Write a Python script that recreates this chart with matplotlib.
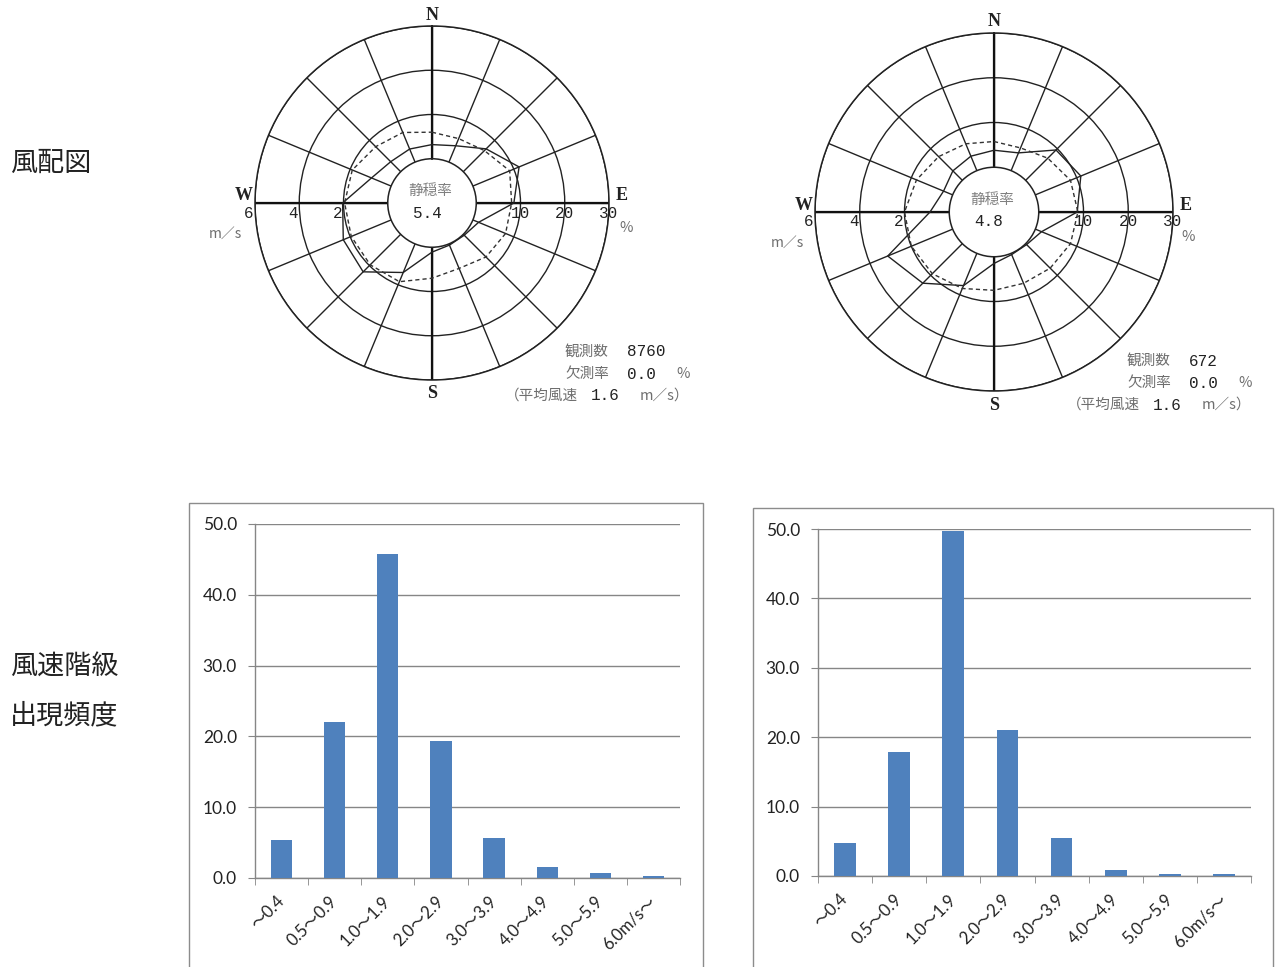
import numpy as np
import matplotlib

matplotlib.use("Agg")
import matplotlib.pyplot as plt  # noqa: E402
from matplotlib.patches import Rectangle  # noqa: E402

plt.rcParams["font.family"] = ["Noto Sans CJK JP", "DejaVu Sans"]

W_PX, H_PX = 1279, 967

# 16 directions, clockwise from N
directions = ["N", "NNE", "NE", "ENE", "E", "ESE", "SE", "SSE",
              "S", "SSW", "SW", "WSW", "W", "WNW", "NW", "NNW"]

# left station: frequency (%) and mean speed (m/s) per direction
left_freq = [3.2, 4.0, 7.3, 11.3, 8.5, 1.4, 0.3, 0.3,
             1.1, 7.0, 12.0, 11.7, 10.2, 4.8, 3.2, 3.2]
left_speed = [1.2, 1.15, 1.35, 1.8, 1.6, 1.6, 1.45, 1.2,
              1.4, 1.85, 1.95, 1.95, 1.95, 1.9, 1.6, 1.45]
left_calm = "5.4"
left_count = "8760"
left_missing = "0.0"
left_mean = "1.6"

# right station
right_freq = [3.8, 4.3, 9.6, 11.0, 8.6, 1.5, 0.3, 0.3,
              1.5, 7.8, 12.5, 15.7, 4.3, 2.2, 3.0, 3.5]
right_speed = [1.15, 1.1, 1.4, 1.7, 1.75, 1.7, 1.55, 1.45,
               1.5, 1.7, 1.9, 2.0, 2.0, 1.75, 1.5, 1.3]
right_calm = "4.8"
right_count = "672"
right_missing = "0.0"
right_mean = "1.6"

pct_ticks = [10, 20, 30]
speed_ticks = [2, 4, 6]

# wind speed class frequency (%)
speed_classes = ["～0.4", "0.5～0.9", "1.0～1.9", "2.0～2.9",
                 "3.0～3.9", "4.0～4.9", "5.0～5.9", "6.0m/s～"]
left_class_freq = [5.4, 22.1, 45.8, 19.4, 5.7, 1.5, 0.7, 0.3]
right_class_freq = [4.7, 17.9, 49.7, 21.0, 5.5, 0.9, 0.25, 0.25]

INK = "#222222"
GRAY_TXT = "#6e6e6e"
MONO = ["Liberation Mono", "Noto Sans CJK JP"]
BAR_FONT = ["Lato", "Noto Sans CJK JP"]

fig = plt.figure(figsize=(W_PX / 100, H_PX / 100), dpi=100)


def ftext(x, y, s, **kw):
    fig.text(x / W_PX, 1 - y / H_PX, s, **kw)


def rose(cx, cy, R, freq, speed, calm, count, missing, mean):
    ax = fig.add_axes([(cx - R) / W_PX, 1 - (cy + R) / H_PX, 2 * R / W_PX, 2 * R / H_PX],
                      projection="polar")
    ax.set_theta_zero_location("N")
    ax.set_theta_direction(-1)
    ax.set_rorigin(-10)
    ax.set_ylim(0, 30)
    ax.set_thetagrids(np.arange(0, 360, 22.5), labels=[])
    ax.set_rgrids(pct_ticks, labels=[])
    ax.grid(True, color=INK, lw=1.0)
    for sp in ax.spines.values():
        sp.set_color(INK)
        sp.set_linewidth(1.1)

    for d in (0, 90, 180, 270):
        ax.plot([np.deg2rad(d)] * 2, [0, 30], color="#111111", lw=1.6)

    theta = np.deg2rad(np.arange(len(directions)) * 22.5)
    th = np.append(theta, theta[0])
    ax.plot(th, np.append(freq, freq[0]), color=INK, lw=1.0)
    sp_r = np.array(speed) * 5
    ax.plot(th, np.append(sp_r, sp_r[0]), color="#333333", lw=1.0, ls=(0, (3, 2.2)))

    kw = dict(textcoords="offset pixels", ha="center", va="center", color=INK,
              family=MONO, fontsize=11.5, annotation_clip=False)
    for p in pct_ticks:
        ax.annotate(str(p), (np.pi / 2, p), xytext=(0, -10), **kw)
    for s in speed_ticks:
        ax.annotate(str(s), (3 * np.pi / 2, s * 5), xytext=(-6, -10), **kw)

    big = dict(textcoords="offset pixels", ha="center", va="center", color=INK,
               family=["Liberation Serif"], fontweight="bold", fontsize=13,
               annotation_clip=False)
    ax.annotate("N", (0, 30), xytext=(0, 11), **big)
    ax.annotate("S", (np.pi, 30), xytext=(0, -14), **big)
    ax.annotate("W", (3 * np.pi / 2, 30), xytext=(-11, 7), **big)
    ax.annotate("E", (np.pi / 2, 30), xytext=(13, 7), **big)

    ftext(cx - 2, cy - 12, "静穏率", ha="center", va="center", color="#808080", fontsize=10.5)
    ftext(cx - 5, cy + 10, calm, ha="center", va="center", color=INK, family=MONO, fontsize=11.5)
    ftext(cx - 207, cy + 31, "m／s", ha="center", va="center", color=GRAY_TXT, fontsize=10)
    ftext(cx + 194, cy + 25, "%", ha="center", va="center", color=GRAY_TXT, fontsize=10.5)

    sx, sy = cx + 133, cy + 149
    ftext(sx, sy, "観測数", ha="left", va="center", color=GRAY_TXT, fontsize=10.5)
    ftext(sx + 62, sy, count, ha="left", va="center", color=INK, family=MONO, fontsize=11.5)
    ftext(sx, sy + 22, "欠測率", ha="left", va="center", color=GRAY_TXT, fontsize=10.5)
    ftext(sx + 62, sy + 22, missing, ha="left", va="center", color=INK, family=MONO, fontsize=11.5)
    ftext(sx + 111, sy + 22, "%", ha="left", va="center", color=GRAY_TXT, fontsize=10.5)
    ftext(sx - 60, sy + 44, "（平均風速", ha="left", va="center", color=GRAY_TXT, fontsize=10.5)
    ftext(sx + 26, sy + 44, mean, ha="left", va="center", color=INK, family=MONO, fontsize=11.5)
    ftext(sx + 75, sy + 44, "m／s）", ha="left", va="center", color=GRAY_TXT, fontsize=10.5)


def bars(frame, box, values):
    x0, y0, x1, y1 = frame
    fig.patches.append(Rectangle((x0 / W_PX, 1 - y1 / H_PX), (x1 - x0) / W_PX, (y1 - y0) / H_PX,
                                 transform=fig.transFigure, fill=False, ec="#8c8c8c", lw=1.0))
    l, t, r, b = box
    ax = fig.add_axes([l / W_PX, 1 - b / H_PX, (r - l) / W_PX, (b - t) / H_PX])
    x = np.arange(len(speed_classes))
    ax.bar(x, values, width=0.4, color="#4F81BD", zorder=3)
    ax.set_xlim(-0.5, len(speed_classes) - 0.5)
    ax.set_ylim(0, 50)
    ax.set_yticks(np.arange(0, 51, 10))
    ax.set_yticklabels([f"{v:.1f}" for v in np.arange(0, 51, 10)], family=BAR_FONT,
                       fontsize=12.5)
    ax.yaxis.grid(True, color="#868686", lw=1.0)
    ax.set_axisbelow(True)
    for s in ("top", "right"):
        ax.spines[s].set_visible(False)
    for s in ("left", "bottom"):
        ax.spines[s].set_color("#868686")
        ax.spines[s].set_linewidth(1.0)
    ax.set_xticks(x)
    ax.set_xticklabels(speed_classes, rotation=45, ha="right", va="center",
                       rotation_mode="anchor", family=BAR_FONT, fontsize=12)
    ax.set_xticks(np.arange(-0.5, len(speed_classes)), minor=True)
    ax.tick_params(axis="x", which="major", length=0, pad=15, colors=INK)
    ax.tick_params(axis="x", which="minor", length=5, color="#868686")
    ax.tick_params(axis="y", length=5, color="#868686", labelcolor=INK, pad=8)


rose(432, 203, 177, left_freq, left_speed, left_calm, left_count, left_missing, left_mean)
rose(994, 212, 179, right_freq, right_speed, right_calm, right_count, right_missing, right_mean)

bars((189, 503, 703, 968), (255, 524, 680, 878), left_class_freq)
bars((753, 508, 1273, 968), (818, 529, 1251, 876), right_class_freq)

ftext(10, 163, "風配図", ha="left", va="center", color=INK, fontsize=19.5)
ftext(10, 667, "風速階級", ha="left", va="center", color=INK, fontsize=19.5)
ftext(10, 716, "出現頻度", ha="left", va="center", color=INK, fontsize=19.5)

fig.savefig("out.png", dpi=100, facecolor="white")
